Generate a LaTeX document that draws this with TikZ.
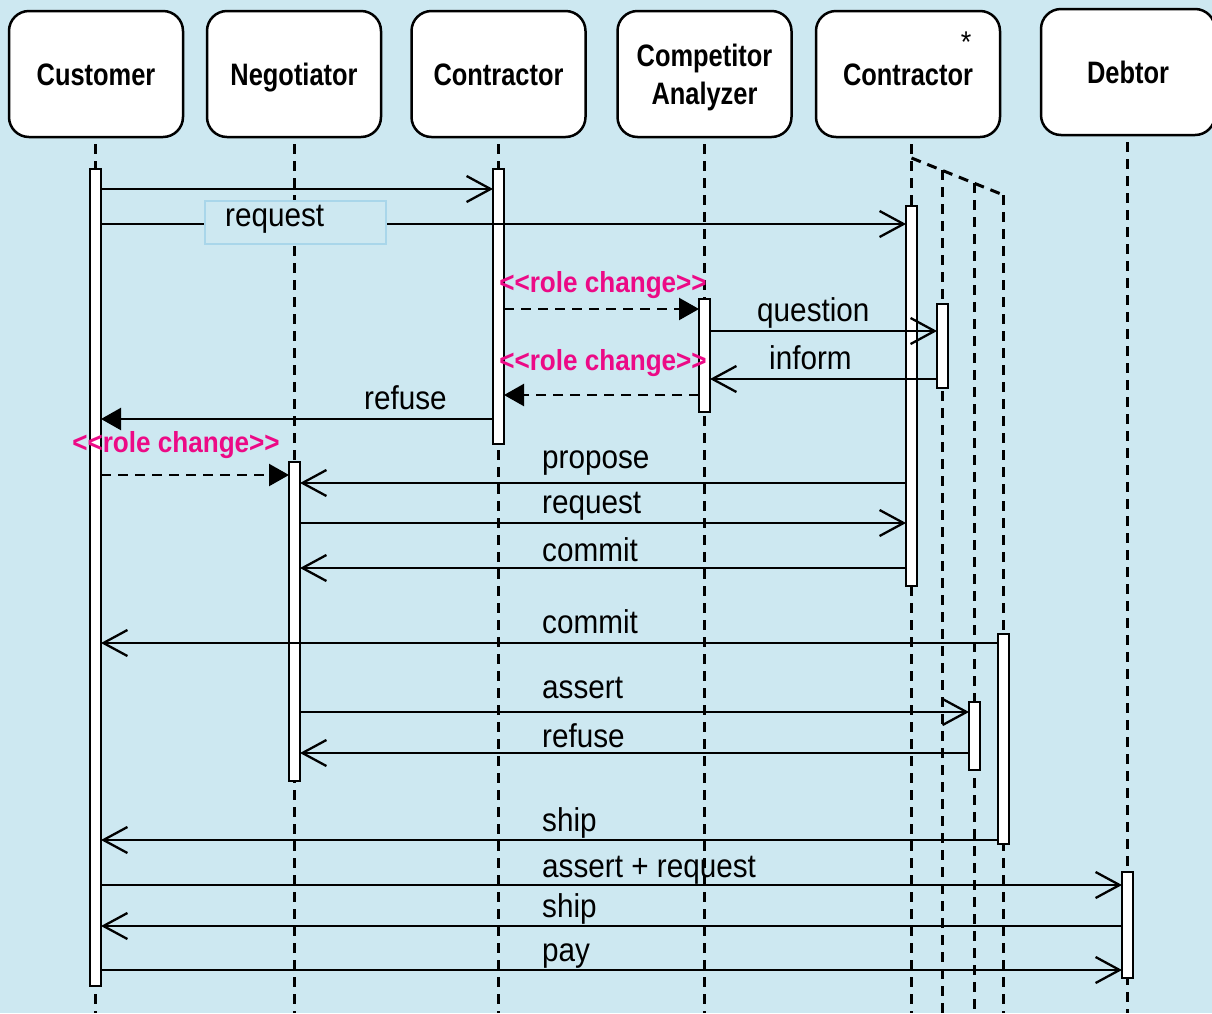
\documentclass[tikz,border=0pt]{standalone}
\usepackage{fontspec}
\setmainfont{Liberation Sans}[FakeStretch=0.9]
\newfontfamily\titlefont{Liberation Sans}[FakeStretch=0.82]
\usetikzlibrary{arrows.meta}
\definecolor{skyback}{HTML}{CDE8F1}
\definecolor{boxedge}{HTML}{A9D6EA}
\definecolor{rolepink}{HTML}{EC0A86}
\newcommand{\rolechange}{{<}{<}role change{>}{>}}

\begin{document}
\begin{tikzpicture}[x=1pt, y=-1pt, >=Stealth,
  actor/.style={draw, line width=2.5pt, fill=white, rounded corners=20pt,
    minimum width=174pt, minimum height=126pt, align=center,
    font=\titlefont\bfseries\fontsize{31}{38}\selectfont},
  actorline/.style={actor, text height=23pt, text depth=1pt},
  lifeline/.style={line width=3pt, dash pattern=on 10pt off 7pt},
  actbar/.style={draw, line width=2pt, fill=white, minimum width=9pt, inner sep=0pt},
  msg/.style={line width=2.3pt, -{Straight Barb[length=24pt,width=26pt]}},
  rolemsg/.style={line width=2.3pt, dash pattern=on 10pt off 7pt,
    -{Triangle[length=20pt,width=22pt]}},
  replymsg/.style={line width=2.3pt, -{Triangle[length=20pt,width=22pt]}},
  lbl/.style={anchor=base west, inner sep=0pt, font=\fontsize{33}{36}\selectfont},
  role/.style={anchor=base, inner sep=0pt, text=rolepink,
    font=\bfseries\fontsize{29}{32}\selectfont}]

% Canvas
\useasboundingbox (0,0) rectangle (1212,1013);
\clip (0,0) rectangle (1212,1013);
\fill[skyback] (0,0) rectangle (1212,1013);

% Actors
\node[actorline] (customer) at (96,74) {Customer};
\node[actorline] (negotiator) at (294,74) {Negotiator};
\node[actorline] (contractor) at (498.5,74) {Contractor};
\node[actor] (analyzer) at (704.5,74) {};
\node[align=center, font=\titlefont\bfseries\fontsize{31}{38}\selectfont]
  (analyzertext) at (704.5,77) {Competitor\\Analyzer};
\node[actorline, minimum width=184pt] (contractorstar) at (908,74) {Contractor};
\node[font=\fontsize{30}{32}\selectfont, inner sep=0pt] (multi) at (966,42) {*};
\node[actorline] (debtor) at (1128,72) {Debtor};

% Activation bars
\node[actbar, minimum height=815pt] (custbar) at (95.5,577.5) {};
\node[actbar, minimum height=317pt] (negbar) at (294.5,621.5) {};
\node[actbar, minimum height=273pt] (conbar) at (498.5,306.5) {};
\node[actbar, minimum height=111pt] (anabar) at (704.5,355.5) {};
\node[actbar, minimum height=378pt] (starbar) at (911.5,396) {};
\node[actbar, minimum height=82pt] (starbarb) at (942.5,346) {};
\node[actbar, minimum height=66pt] (starbarc) at (974.5,736) {};
\node[actbar, minimum height=208pt] (starbard) at (1003.5,739) {};
\node[actbar, minimum height=104pt] (debtbar) at (1127.5,925) {};

% Lifelines
\foreach \who/\lane in {customer/custbar, negotiator/negbar, contractor/conbar,
                        analyzer/anabar, contractorstar/starbar, debtor/debtbar}
  \draw[lifeline] (\lane |- \who.south) ++(0,6) -- (\lane |- 0,1013);

% Multi-object fan
\coordinate (fanA) at (911.5,158);
\coordinate (fanB) at (942.5,170.3);
\coordinate (fanC) at (974.5,183);
\coordinate (fanD) at (1003.5,195);
\draw[lifeline] (fanA) -- (fanD);
\draw[lifeline] (fanB) -- (fanB |- 0,1013);
\draw[lifeline] (fanC) -- (fanC |- 0,1013);
\draw[lifeline] (fanD) -- (fanD |- 0,1013);

% Redraw bars over the lifelines
\foreach \b in {custbar, negbar, conbar, anabar, starbar, starbarb, starbarc, starbard, debtbar}
  \draw[line width=2pt, fill=white] (\b.north west) rectangle (\b.south east);

% Messages
\draw[msg] (custbar.east |- 0,189) -- (conbar.west |- 0,189);
\draw[msg] (custbar.east |- 0,224) -- (starbar.west |- 0,224);
\node[draw=boxedge, line width=1.5pt, fill=skyback, minimum width=181pt,
  minimum height=43pt, inner sep=0pt] (reqbox) at (295.5,222.5) {};
\node[lbl, anchor=west] (reqlbl) at (225,219) {request};

\draw[rolemsg] (conbar.east |- 0,309) -- (anabar.west |- 0,309);
\node[role] (rolea) at (603,292) {\rolechange};

\draw[msg] (anabar.east |- 0,331) -- (starbarb.west |- 0,331);
\node[lbl] (question) at (757,321) {question};

\draw[msg] (starbarb.west |- 0,379) -- (anabar.east |- 0,379);
\node[lbl] (inform) at (769,369) {inform};

\draw[rolemsg] (anabar.west |- 0,395) -- (conbar.east |- 0,395);
\node[role] (roleb) at (603,370) {\rolechange};

\draw[replymsg] (conbar.west |- 0,419) -- (custbar.east |- 0,419);
\node[lbl] (refusea) at (364,409) {refuse};

\draw[rolemsg] (custbar.east |- 0,475) -- (negbar.west |- 0,475);
\node[role] (rolec) at (176,452) {\rolechange};

\draw[msg] (starbar.west |- 0,483) -- (negbar.east |- 0,483);
\node[lbl] (propose) at (542,468) {propose};

\draw[msg] (negbar.east |- 0,523) -- (starbar.west |- 0,523);
\node[lbl] (requestb) at (542,513) {request};

\draw[msg] (starbar.west |- 0,568) -- (negbar.east |- 0,568);
\node[lbl] (commita) at (542,561) {commit};

\draw[msg] (starbard.west |- 0,643) -- (custbar.east |- 0,643);
\node[lbl] (commitb) at (542,633) {commit};

\draw[msg] (negbar.east |- 0,712) -- (starbarc.west |- 0,712);
\node[lbl] (assert) at (542,698) {assert};

\draw[msg] (starbarc.west |- 0,753) -- (negbar.east |- 0,753);
\node[lbl] (refuseb) at (542,747) {refuse};

\draw[msg] (starbard.west |- 0,840) -- (custbar.east |- 0,840);
\node[lbl] (shipa) at (542,831) {ship};

\draw[msg] (custbar.east |- 0,885) -- (debtbar.west |- 0,885);
\node[lbl] (assertreq) at (542,877) {assert + request};

\draw[msg] (debtbar.west |- 0,926) -- (custbar.east |- 0,926);
\node[lbl] (shipb) at (542,917) {ship};

\draw[msg] (custbar.east |- 0,970) -- (debtbar.west |- 0,970);
\node[lbl] (pay) at (542,961) {pay};

\end{tikzpicture}
\end{document}
